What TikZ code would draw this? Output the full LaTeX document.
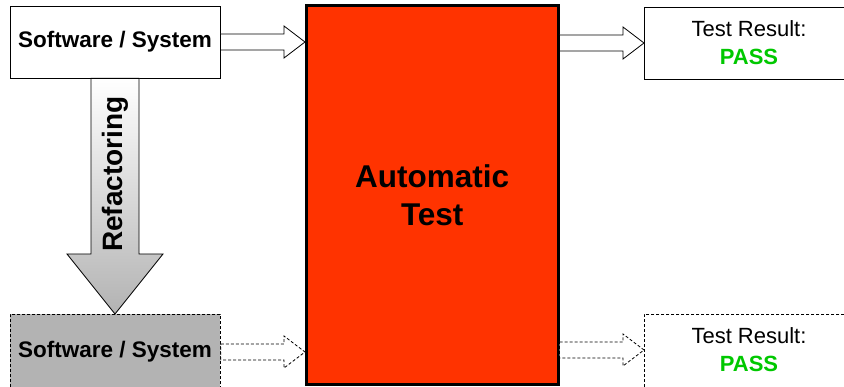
\documentclass[tikz,border=0pt]{standalone}
\usepackage{fontspec}
\setmainfont{Liberation Sans}
\usetikzlibrary{calc}
\definecolor{testred}{HTML}{FF3300}
\definecolor{passgreen}{HTML}{00C800}
\definecolor{boxgray}{HTML}{B3B3B3}
% hollow block arrow from #2 to the tip #3 (same height as #2)
\newcommand\blockarrow[3][]{%
  \draw[arrowline,#1] let \p1=(#2), \p2=(#3) in
    (\x1,\y1+8pt) -- (\x2-21pt,\y1+8pt) -- (\x2-21pt,\y1+16pt) -- (\x2,\y1)
    -- (\x2-21pt,\y1-16pt) -- (\x2-21pt,\y1-8pt) -- (\x1,\y1-8pt) -- cycle;}
\begin{document}
\begin{tikzpicture}[x=1pt,y=-1pt,
  swbox/.style={draw=black, line width=0.8pt, fill=white, inner sep=0pt,
    minimum width=210pt, minimum height=72pt},
  swtext/.style={font=\fontsize{22.5}{27}\selectfont\bfseries, inner sep=0pt},
  resbox/.style={draw=black, line width=0.8pt, fill=white, inner sep=0pt,
    minimum width=210pt, minimum height=72pt},
  restext/.style={font=\fontsize{22}{28}\selectfont, align=center, inner sep=0pt},
  testbox/.style={draw=black, line width=3pt, fill=testred, inner sep=0pt,
    minimum width=251.5pt, minimum height=379.5pt, align=center,
    font=\fontsize{31.5}{38}\selectfont\bfseries},
  dashedline/.style={draw=black, line width=0.8pt, dash pattern=on 3pt off 2pt},
  arrowline/.style={draw=black, line width=0.8pt, fill=white},
  refarrow/.style={draw=black, line width=0.8pt, top color=white, bottom color=black!30},
  reftext/.style={font=\fontsize{28}{30}\selectfont\bfseries, inner sep=0pt}]
\useasboundingbox (0,0) rectangle (844,387);

% central test block
\node[testbox] (test) at (432.25,195.25) {Automatic\\Test};

% software before and after refactoring
\node[swbox] (sw1) at (115,42) {};
\node[swtext] (sw1t) at (115,42) {Software / System};
\node[swbox, dashedline, fill=boxgray, anchor=north west, minimum height=90pt] (sw2) at (10,314) {};
\node[swtext] (sw2t) at (115,352) {Software / System};

% test results
\node[resbox, anchor=north west] (res1) at (644,7) {};
\node[restext] (res1t) at (749,43) {Test Result:\\\textbf{\textcolor{passgreen}{PASS}}};
\node[resbox, dashedline, anchor=north west, minimum height=90pt] (res2) at (644,314) {};
\node[restext] (res2t) at (749,350) {Test Result:\\\textbf{\textcolor{passgreen}{PASS}}};

% flow into and out of the test
\blockarrow{sw1.east |- sw1t.center}{test.west |- sw1t.center}
\blockarrow{test.east |- res1t.center}{res1.west |- res1t.center}
\blockarrow[dashedline]{sw2.east |- sw2t.center}{test.west |- sw2t.center}
\blockarrow[dashedline]{test.east |- res2t.center}{res2.west |- res2t.center}

% refactoring arrow
\path[refarrow] let \p1=(sw1.south), \p2=(sw2.north) in
  (\x1-24pt,\y1) -- (\x1-24pt,\y2+60pt) -- (\x1-48pt,\y2+60pt) -- (\x1,\y2)
  -- (\x1+48pt,\y2+60pt) -- (\x1+24pt,\y2+60pt) -- (\x1+24pt,\y1) -- cycle;
\node[reftext, rotate=90, anchor=base] (reft) at (122,174) {Refactoring};
\end{tikzpicture}
\end{document}
